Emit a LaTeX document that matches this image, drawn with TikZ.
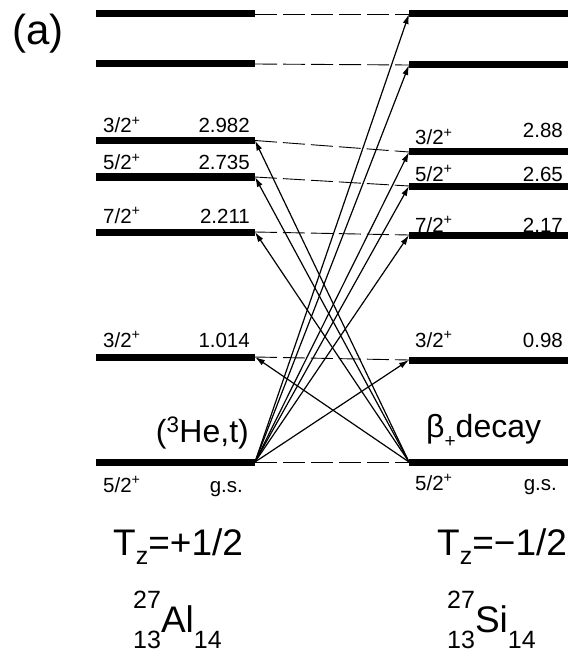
\documentclass[tikz,border=0pt]{standalone}
\usepackage{fontspec}
\setmainfont{Liberation Sans}
\usetikzlibrary{arrows.meta}
\newcommand\nucl[4]{\makebox[0pt][l]{\raisebox{24pt}{\fontsize{25}{25}\selectfont #1}}\raisebox{-16pt}{\fontsize{25}{25}\selectfont #2}#3\raisebox{-16pt}{\fontsize{25}{25}\selectfont #4}}
\begin{document}
\begin{tikzpicture}[x=1pt,y=-1pt,
  level/.style={line width=7pt},
  conn/.style={line width=0.9pt, dash pattern=on 22pt off 6pt},
  trans/.style={line width=1.2pt,-{Latex[length=10pt,width=6pt]}},
  lab/.style={font=\fontsize{20.5}{20.5}\selectfont, inner sep=0pt},
  big/.style={font=\fontsize{32}{32}\selectfont, inner sep=0pt},
  huge/.style={font=\fontsize{37}{37}\selectfont, inner sep=0pt}]
\useasboundingbox (0,0) rectangle (568,655);
% levels
\foreach \n/\y in {g/462,1/357,2/232,3/177,4/140.5,5/64,6/14}{
  \coordinate (L\n w) at (96,\y);
  \coordinate (L\n e) at (255,\y);
  \draw[level] (L\n w) -- (L\n e);
}
\foreach \n/\y in {g/462,1/360,2/235,3/186,4/152,5/65,6/14}{
  \coordinate (R\n w) at (409,\y);
  \coordinate (R\n e) at (568,\y);
  \draw[level] (R\n w) -- (R\n e);
}
% dashed connections
\foreach \n in {g,1,2,3,4,5,6}{
  \draw[conn] (L\n e) -- (R\n w);
}
% transitions
\foreach \n in {1,2,3,4,5,6}{
  \draw[trans] (Lge) -- (R\n w);
}
\foreach \n in {1,2,3,4}{
  \draw[trans] (Rgw) -- (L\n e);
}
% left labels
\node[lab, anchor=base west] (sL4) at (103,133) {3/2\textsuperscript{+}};
\node[lab, anchor=base east] (eL4) at (250,133) {2.982};
\node[lab, anchor=base west] (sL3) at (103,170) {5/2\textsuperscript{+}};
\node[lab, anchor=base east] (eL3) at (250,170) {2.735};
\node[lab, anchor=base west] (sL2) at (103,223) {7/2\textsuperscript{+}};
\node[lab, anchor=base east] (eL2) at (250,223) {2.211};
\node[lab, anchor=base west] (sL1) at (103,347) {3/2\textsuperscript{+}};
\node[lab, anchor=base east] (eL1) at (250,347) {1.014};
\node[lab, anchor=base west] (sLg) at (103,492) {5/2\textsuperscript{+}};
\node[lab, anchor=base east] (eLg) at (243,492) {g.s.};
% right labels
\node[lab, anchor=base west] (sR4) at (415,145) {3/2\textsuperscript{+}};
\node[lab, anchor=base east] (eR4) at (563,138) {2.88};
\node[lab, anchor=base west] (sR3) at (415,181) {5/2\textsuperscript{+}};
\node[lab, anchor=base east] (eR3) at (563,181) {2.65};
\node[lab, anchor=base west] (sR2) at (415,232) {7/2\textsuperscript{+}};
\node[lab, anchor=base east] (eR2) at (563,232) {2.17};
\node[lab, anchor=base west] (sR1) at (415,347) {3/2\textsuperscript{+}};
\node[lab, anchor=base east] (eR1) at (563,347) {0.98};
\node[lab, anchor=base west] (sRg) at (415,490) {5/2\textsuperscript{+}};
\node[lab, anchor=base east] (eRg) at (557,490) {g.s.};
% reaction labels
\node[big, anchor=base east] (he) at (249,442) {(\textsuperscript{3}He,t)};
\node[big, anchor=base west] (bd) at (426,437) {β\raisebox{-10pt}{\fontsize{19}{19}\selectfont +}decay};
% panel label
\node[font=\fontsize{42}{42}\selectfont, inner sep=0pt, anchor=base west] (pa) at (12,45) {(a)};
% isospin and nuclide
\node[huge, anchor=base west] (tl) at (113,555) {T\raisebox{-9pt}{\fontsize{25}{25}\selectfont z}=+1/2};
\node[huge, anchor=base west] (tr) at (437,555) {T\raisebox{-9pt}{\fontsize{25}{25}\selectfont z}=−1/2};
\node[huge, anchor=base west] (nl) at (133,632) {\nucl{27}{13}{Al}{14}};
\node[huge, anchor=base west] (nr) at (447,632) {\nucl{27}{13}{Si}{14}};
\end{tikzpicture}
\end{document}
